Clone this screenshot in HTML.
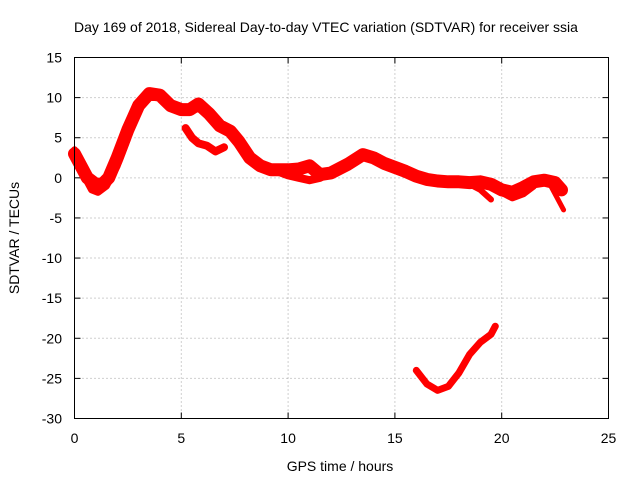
<!DOCTYPE html>
<html><head><meta charset="utf-8"><style>
body{margin:0;background:#fff}
svg{display:block;font-family:"Liberation Sans",sans-serif;font-size:14px}
</style></head><body>
<svg id="chart" width="640" height="480" viewBox="0 0 640 480">
<text x="326" y="32" text-anchor="middle">Day 169 of 2018, Sidereal Day-to-day VTEC variation (SDTVAR) for receiver ssia</text>
<g id="grid"></g>
<g id="ticks"></g>
<g id="series"></g>
<rect x="74.5" y="57.5" width="534" height="361" fill="none" stroke="#000"/>
<text x="340" y="471" text-anchor="middle">GPS time / hours</text>
<text transform="translate(19,238) rotate(-90)" text-anchor="middle">SDTVAR / TECUs</text>
</svg>
<script>
const xTicks=[0,5,10,15,20,25];
const yTicks=[15,10,5,0,-5,-10,-15,-20,-25,-30];
const track1X=[0,0.3,0.6,1,1.3,1.6,2,2.5,3,3.5,4,4.5,5,5.4,5.8,6.3,6.8,7.3,7.7,8.2,8.7,9.2,10,10.5,11,11.5,12,12.8,13.5,14,14.5,15,15.5,16,16.5,17,17.5,18,18.5,19,19.5,20,20.5,21,21.5,22,22.5,22.8];
const track1Y=[3,1.5,0,-0.8,-0.8,0,2.5,6,9,10.5,10.3,9,8.5,8.5,9.2,8,6.5,5.8,4.5,2.5,1.5,1,1,1.1,1.5,0.4,0.6,1.7,2.9,2.5,1.8,1.3,0.8,0.2,-0.2,-0.4,-0.5,-0.5,-0.6,-0.5,-0.8,-1.5,-1.8,-1.2,-0.5,-0.3,-0.6,-1.5];
const track2X=[0,0.4,0.8,1.1,1.5,2,2.5];
const track2Y=[3.5,0.5,-1.5,-1.8,-1,1.5,5];
const track3X=[5.2,5.5,5.8,6.2,6.6,7];
const track3Y=[6.2,5,4.3,4,3.3,3.8];
const track4X=[9.5,10,10.5,11,11.5,12,12.5];
const track4Y=[0.8,0.3,0,-0.3,0,0.8,1.5];
const track5X=[18.5,19,19.5];
const track5Y=[-0.8,-1.5,-2.7];
const track6X=[20,20.5,21,21.5];
const track6Y=[-1.8,-2.5,-2,-1];
const track7X=[22.3,22.6,22.9];
const track7Y=[-1,-2.5,-4];
const track8X=[16,16.5,17,17.5,18,18.5,19,19.5,19.7];
const track8Y=[-24,-25.7,-26.5,-26,-24.3,-22,-20.5,-19.5,-18.5];
const NS='http://www.w3.org/2000/svg';
const X0=74.5,X1=608.5,Y0=418.5,Y1=57.5;
const sx=v=>X0+(v-0)/(25-0)*(X1-X0);
const sy=v=>Y0-(v+30)/(45)*(Y0-Y1);
const grid=document.getElementById('grid'),ticks=document.getElementById('ticks'),ser=document.getElementById('series');
function mk(tag,attrs,parent){const e=document.createElementNS(NS,tag);for(const k in attrs)e.setAttribute(k,attrs[k]);parent.appendChild(e);return e;}
xTicks.forEach(t=>{const x=sx(t);
 if(t>0&&t<25){const l=mk('line',{x1:x,x2:x,y1:Y0,y2:Y1,stroke:'#a0a0a0','stroke-dasharray':'1,3'},grid);}
 mk('line',{x1:x,x2:x,y1:Y0,y2:Y0-6,stroke:'#000'},ticks);mk('line',{x1:x,x2:x,y1:Y1,y2:Y1+6,stroke:'#000'},ticks);
 const tx=mk('text',{x:x,y:443,'text-anchor':'middle'},ticks);tx.textContent=t;
 });
yTicks.forEach(t=>{const y=sy(t);
 if(t<15&&t>-30){const l=mk('line',{x1:X0,x2:X1,y1:y,y2:y,stroke:'#a0a0a0','stroke-dasharray':'1,3'},grid);}
 mk('line',{x1:X0,x2:X0+6,y1:y,y2:y,stroke:'#000'},ticks);mk('line',{x1:X1,x2:X1-6,y1:y,y2:y,stroke:'#000'},ticks);
 const tx=mk('text',{x:62,y:y+5,'text-anchor':'end'},ticks);tx.textContent=t;
 });
const tracks=[[track1X,track1Y,13],[track2X,track2Y,7],[track3X,track3Y,8],[track4X,track4Y,8],[track5X,track5Y,6],[track6X,track6Y,7],[track7X,track7Y,5],[track8X,track8Y,7]];
tracks.forEach((tr,i)=>{const pts=tr[0].map((x,j)=>sx(x).toFixed(1)+','+sy(tr[1][j]).toFixed(1)).join(' ');
 const p=mk('polyline',{points:pts,fill:'none',stroke:'#ff0000','stroke-width':tr[2],'stroke-linejoin':'round','stroke-linecap':'round'},ser);
 
 });
</script>
</body></html>
